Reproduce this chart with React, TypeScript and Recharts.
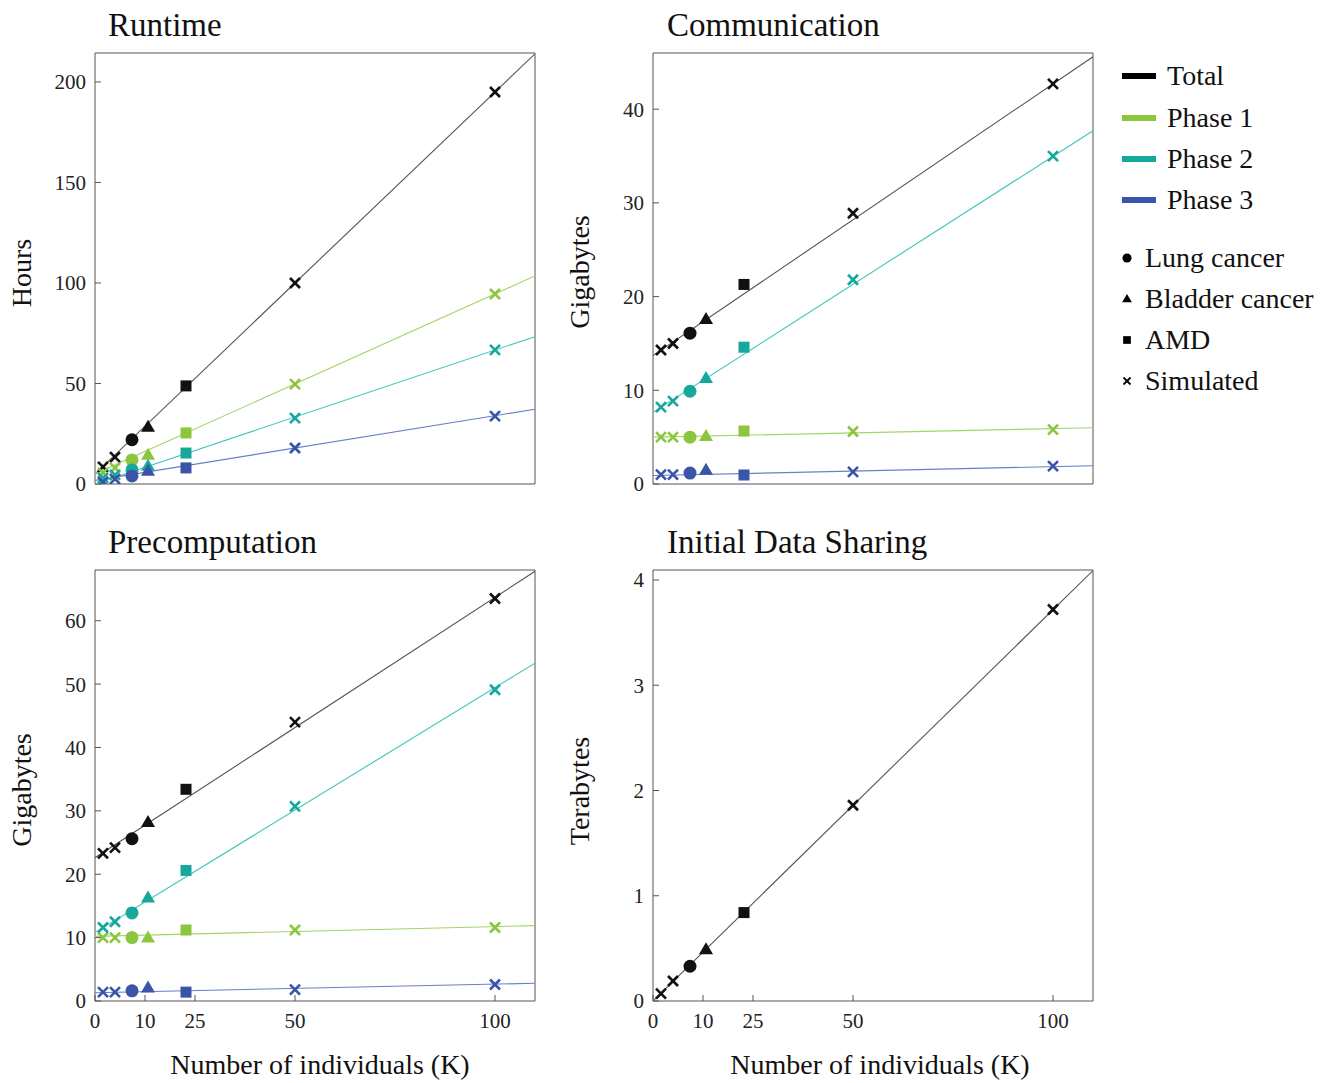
import React from 'react';
import { ScatterChart, Scatter, XAxis, YAxis } from 'recharts';

const FONT = '"Liberation Serif", "Times New Roman", serif';

// sample sizes in thousands of individuals, and which cohort each point is
const sizes = [2, 5, 9.25, 13.25, 22.75, 50, 100];
const cohorts = ['x', 'x', 'circle', 'triangle', 'square', 'x', 'x'];

const xTicks = [0, 12.5, 25, 50, 100];
const xTickLabels = ['0', '10', '25', '50', '100'];
const fitX = [0, 110];

// Runtime (hours)
const runtimeTotal = [8.5, 13.4, 22, 28.4, 48.8, 100, 195];
const runtimeP1 = [5.5, 8, 12, 14.4, 25.4, 49.7, 94.5];
const runtimeP2 = [3, 4.5, 7, 9, 15.4, 32.8, 66.7];
const runtimeP3 = [1, 2.5, 4, 6.5, 8, 17.9, 33.8];
const runtimeFitTotal = [5, 214];
const runtimeFitP1 = [5, 103.5];
const runtimeFitP2 = [0, 73.3];
const runtimeFitP3 = [1.8, 37.2];

// Communication (GB)
const commTotal = [14.3, 15.0, 16.1, 17.6, 21.3, 28.9, 42.7];
const commP1 = [5.0, 5.0, 5.0, 5.1, 5.65, 5.6, 5.8];
const commP2 = [8.2, 8.85, 9.9, 11.3, 14.6, 21.8, 35.0];
const commP3 = [1.0, 1.0, 1.17, 1.5, 0.96, 1.3, 1.9];
const commFitTotal = [13.7, 45.6];
const commFitP1 = [5.0, 6.0];
const commFitP2 = [7.65, 37.7];
const commFitP3 = [0.9, 1.95];

// Precomputation (GB)
const precompTotal = [23.3, 24.2, 25.6, 28.2, 33.4, 44, 63.5];
const precompP1 = [10, 10, 10, 10, 11.2, 11.2, 11.6];
const precompP2 = [11.6, 12.5, 13.9, 16.3, 20.6, 30.7, 49.1];
const precompP3 = [1.4, 1.4, 1.6, 2.1, 1.4, 1.8, 2.6];
const precompFitTotal = [22.6, 67.8];
const precompFitP1 = [10.2, 11.9];
const precompFitP2 = [10.8, 53.3];
const precompFitP3 = [1.3, 2.8];

// Initial data sharing (TB)
const sharingTotal = [0.07, 0.19, 0.33, 0.49, 0.84, 1.86, 3.72];
const sharingFitTotal = [0, 4.09];

const phaseNames = ['Total', 'Phase 1', 'Phase 2', 'Phase 3'];
const markerColors = ['#111111', '#8cc63f', '#16a89d', '#3a54a8'];
const lineColors = ['#555555', '#a3d46a', '#3fc4bb', '#6a7ec6'];
const cohortNames = ['Lung cancer', 'Bladder cancer', 'AMD', 'Simulated'];
const cohortKinds = ['circle', 'triangle', 'square', 'x'];

const toPoints = (vals: number[]) => vals.map((y, i) => ({ x: sizes[i], y, m: cohorts[i] }));
const toFit = (vals: number[]) => vals.map((y, i) => ({ x: fitX[i], y }));

function Marker({ cx, cy, kind, color, s = 1 }: any) {
  if (cx == null || cy == null) return <g />;
  if (kind === 'circle') return <circle cx={cx} cy={cy} r={6.5 * s} fill={color} />;
  if (kind === 'triangle') {
    const h = 12 * s;
    const w = 14 * s;
    return <polygon points={`${cx},${cy - h * 0.6} ${cx + w / 2},${cy + h * 0.4} ${cx - w / 2},${cy + h * 0.4}`} fill={color} />;
  }
  if (kind === 'square') {
    const a = 11 * s;
    return <rect x={cx - a / 2} y={cy - a / 2} width={a} height={a} fill={color} />;
  }
  const d = 5 * s;
  return (
    <g stroke={color} strokeWidth={2.6 * s} strokeLinecap="butt">
      <line x1={cx - d} y1={cy - d} x2={cx + d} y2={cy + d} />
      <line x1={cx - d} y1={cy + d} x2={cx + d} y2={cy - d} />
    </g>
  );
}

const tickStyle = { fill: '#222', fontSize: 21, fontFamily: FONT };
const axisColor = '#555';

function Panel({ left, top, yDomain, yTicks, showX, series, fits }: any) {
  return (
    <div style={{ position: 'absolute', left, top }}>
      <ScatterChart width={560} height={530} margin={{ top: 52, right: 24, bottom: 6, left: 45 }}>
        <XAxis
          xAxisId="b"
          type="number"
          dataKey="x"
          domain={[0, 110]}
          ticks={xTicks}
          interval={0}
          tickFormatter={(v: number) => xTickLabels[xTicks.indexOf(v)]}
          tick={showX ? tickStyle : false}
          tickSize={-6}
          tickMargin={18}
          height={40}
          stroke={axisColor}
          allowDataOverflow
        />
        <XAxis
          xAxisId="t"
          orientation="top"
          type="number"
          dataKey="x"
          domain={[0, 110]}
          ticks={xTicks}
          interval={0}
          tick={false}
          tickSize={-6}
          height={1}
          stroke={axisColor}
          allowDataOverflow
        />
        <YAxis
          yAxisId="l"
          type="number"
          dataKey="y"
          domain={yDomain}
          ticks={yTicks}
          interval={0}
          tick={tickStyle}
          tickSize={-6}
          tickMargin={15}
          width={50}
          stroke={axisColor}
          allowDataOverflow
        />
        <YAxis
          yAxisId="r"
          orientation="right"
          type="number"
          dataKey="y"
          domain={yDomain}
          ticks={yTicks}
          interval={0}
          tick={false}
          tickSize={-6}
          width={1}
          stroke={axisColor}
          allowDataOverflow
        />
        {/* invisible series so the mirrored frame axes are in use */}
        <Scatter xAxisId="t" yAxisId="r" data={toFit(fits[0])} shape={() => <g />} isAnimationActive={false} />
        {fits.map((f: number[], i: number) => (
          <Scatter
            key={'fit' + i}
            xAxisId="b"
            yAxisId="l"
            data={toFit(f)}
            line={{ stroke: lineColors[i], strokeWidth: 1.1 }}
            shape={() => <g />}
            isAnimationActive={false}
          />
        ))}
        {series.map((s: number[], i: number) => (
          <Scatter
            key={'pts' + i}
            xAxisId="b"
            yAxisId="l"
            data={toPoints(s)}
            fill={markerColors[i]}
            shape={(p: any) => <Marker cx={p.cx} cy={p.cy} kind={p.payload?.m} color={markerColors[i]} />}
            isAnimationActive={false}
          />
        ))}
      </ScatterChart>
    </div>
  );
}

export default function App() {
  const legendRows = [76, 118, 159, 200];
  const cohortRows = [258, 299, 340, 381];
  return (
    <div style={{ position: 'absolute', left: 0, top: 0, width: 1334, height: 1083, background: '#fff' }}>
      <Panel
        left={0}
        top={0}
        yDomain={[0, 214.4]}
        yTicks={[0, 50, 100, 150, 200]}
        showX={false}
        series={[runtimeTotal, runtimeP1, runtimeP2, runtimeP3]}
        fits={[runtimeFitTotal, runtimeFitP1, runtimeFitP2, runtimeFitP3]}
      />
      <Panel
        left={558}
        top={0}
        yDomain={[0, 46]}
        yTicks={[0, 10, 20, 30, 40]}
        showX={false}
        series={[commTotal, commP1, commP2, commP3]}
        fits={[commFitTotal, commFitP1, commFitP2, commFitP3]}
      />
      <Panel
        left={0}
        top={517}
        yDomain={[0, 68]}
        yTicks={[0, 10, 20, 30, 40, 50, 60]}
        showX
        series={[precompTotal, precompP1, precompP2, precompP3]}
        fits={[precompFitTotal, precompFitP1, precompFitP2, precompFitP3]}
      />
      <Panel
        left={558}
        top={517}
        yDomain={[0, 4.095]}
        yTicks={[0, 1, 2, 3, 4]}
        showX
        series={[sharingTotal]}
        fits={[sharingFitTotal]}
      />
      <svg width={1334} height={1083} style={{ position: 'absolute', left: 0, top: 0, pointerEvents: 'none' }} fontFamily={FONT} fill="#111">
        <text x={108} y={36} fontSize={33}>Runtime</text>
        <text x={667} y={36} fontSize={33}>Communication</text>
        <text x={108} y={553} fontSize={33}>Precomputation</text>
        <text x={667} y={553} fontSize={33}>Initial Data Sharing</text>

        <text x={31} y={273} fontSize={28} textAnchor="middle" transform="rotate(-90 31 273)">Hours</text>
        <text x={589} y={272} fontSize={28} textAnchor="middle" transform="rotate(-90 589 272)">Gigabytes</text>
        <text x={31} y={790} fontSize={28} textAnchor="middle" transform="rotate(-90 31 790)">Gigabytes</text>
        <text x={589} y={791} fontSize={28} textAnchor="middle" transform="rotate(-90 589 791)">Terabytes</text>

        <text x={320} y={1074} fontSize={28} textAnchor="middle">Number of individuals (K)</text>
        <text x={880} y={1074} fontSize={28} textAnchor="middle">Number of individuals (K)</text>

        {phaseNames.map((n, i) => (
          <g key={n}>
            <rect x={1122} y={legendRows[i] - 3} width={34} height={6} fill={i === 0 ? '#000' : markerColors[i]} />
            <text x={1167} y={legendRows[i] + 9} fontSize={28}>{n}</text>
          </g>
        ))}
        {cohortNames.map((n, i) => (
          <g key={n}>
            <Marker cx={1127} cy={cohortRows[i]} kind={cohortKinds[i]} color="#000" s={0.7} />
            <text x={1145} y={cohortRows[i] + 9} fontSize={28}>{n}</text>
          </g>
        ))}
      </svg>
    </div>
  );
}
